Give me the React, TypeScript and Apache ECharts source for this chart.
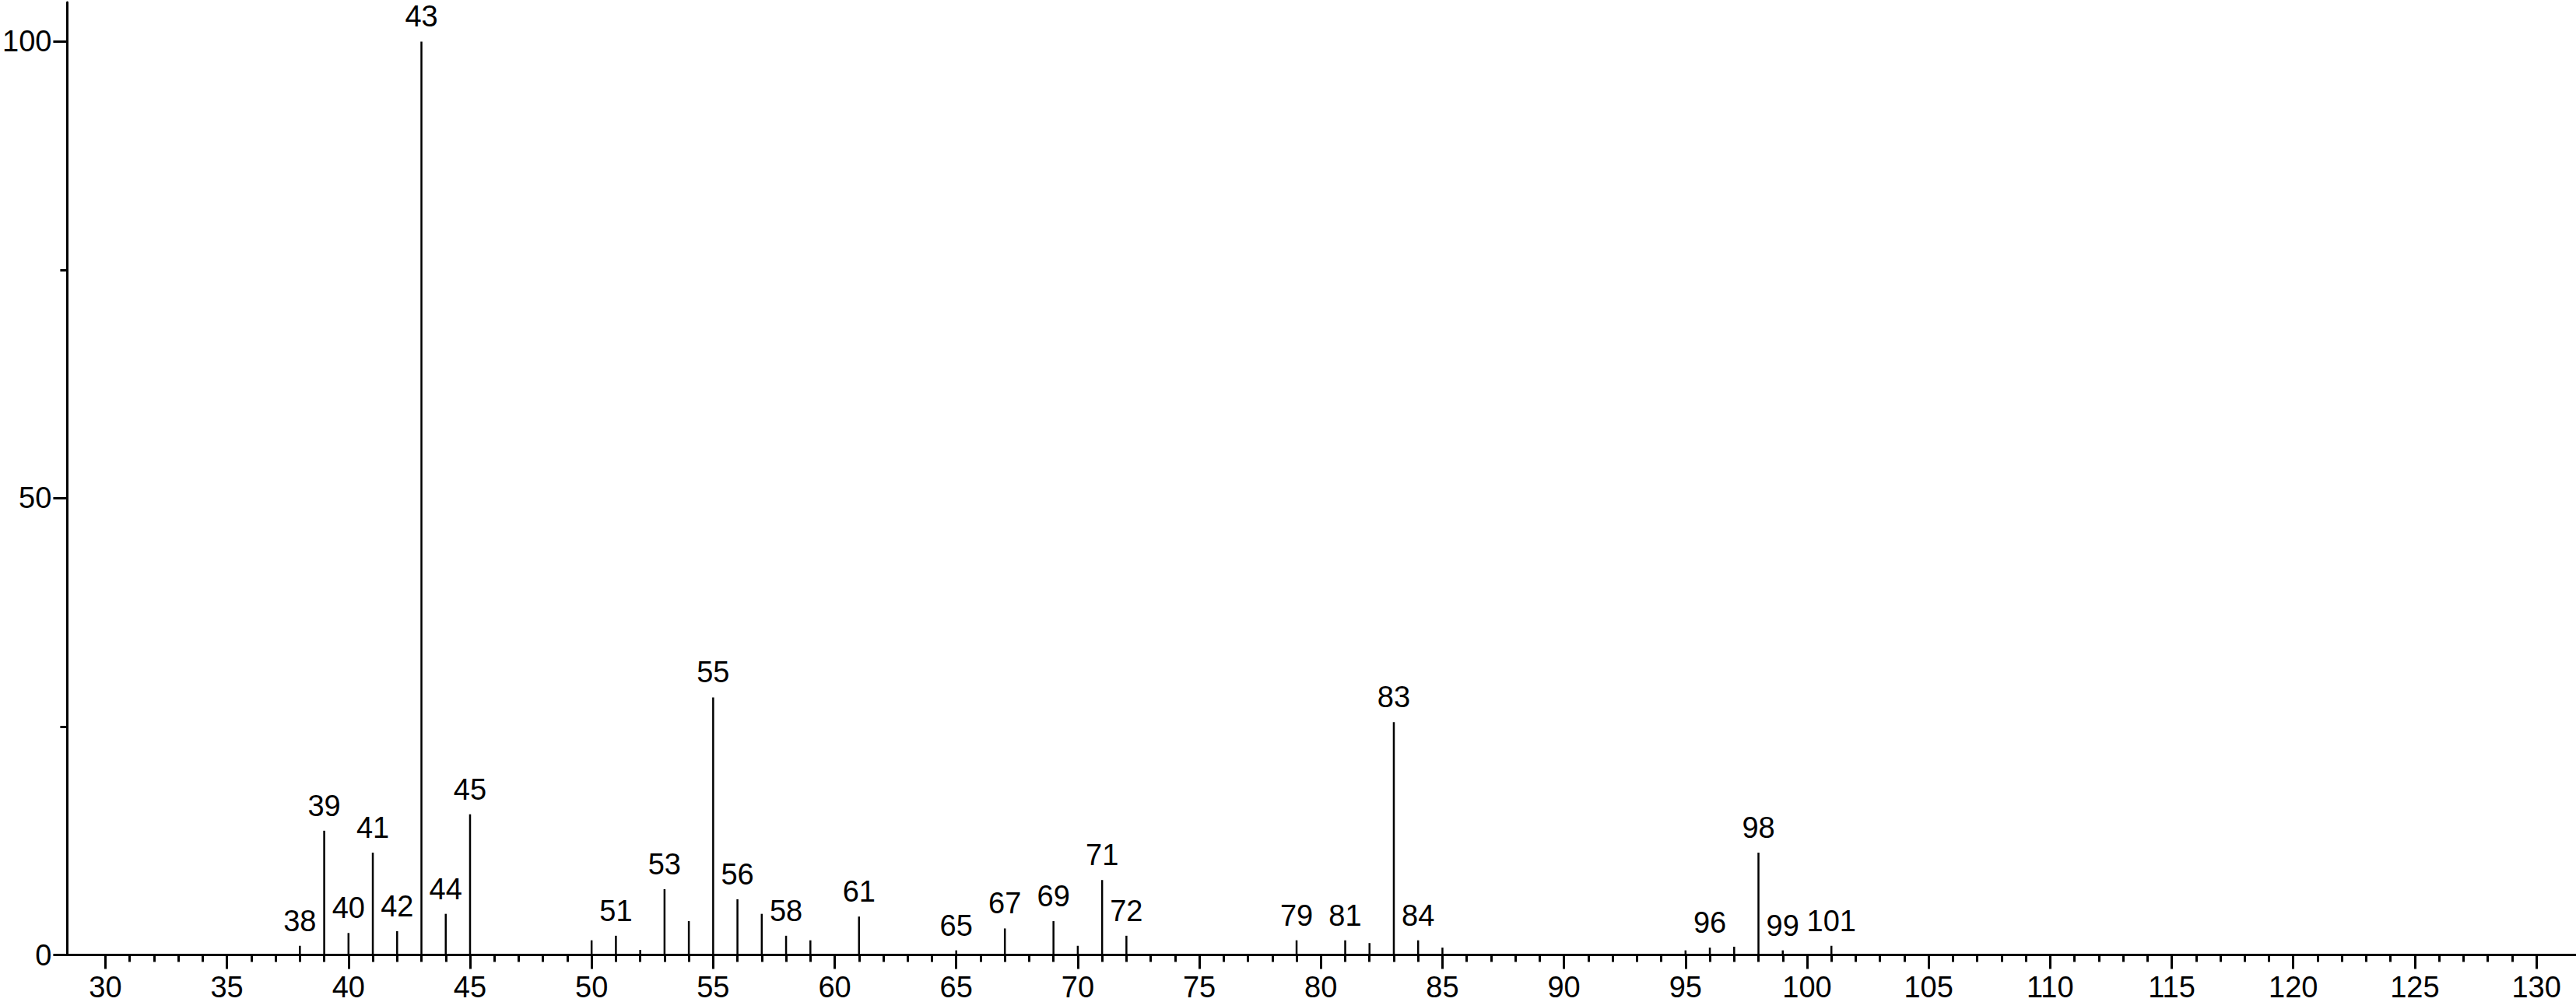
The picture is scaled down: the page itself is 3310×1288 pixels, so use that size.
import React, { useEffect, useRef } from "react";
import * as echarts from "echarts";

const masses = [38, 39, 40, 41, 42, 43, 44, 45, 50, 51, 52, 53, 54, 55, 56, 57, 58, 59, 61, 65, 67, 69, 70, 71, 72, 79, 81, 82, 83, 84, 85, 95, 96, 97, 98, 99, 101];
const intensities = [1.0, 13.6, 2.4, 11.2, 2.6, 100, 4.5, 15.4, 1.6, 2.1, 0.55, 7.2, 3.7, 28.2, 6.1, 4.5, 2.1, 1.6, 4.2, 0.5, 2.9, 3.7, 1.0, 8.2, 2.1, 1.6, 1.6, 1.3, 25.5, 1.6, 0.8, 0.5, 0.8, 0.9, 11.2, 0.5, 1.0];
const labeledMasses = [38, 39, 40, 41, 42, 43, 44, 45, 51, 53, 55, 56, 58, 61, 65, 67, 69, 71, 72, 79, 81, 83, 84, 96, 98, 99, 101];
const xMajorTicks = [30, 35, 40, 45, 50, 55, 60, 65, 70, 75, 80, 85, 90, 95, 100, 105, 110, 115, 120, 125, 130];
const xMinorTicks: number[] = [];
for (let v = 30; v <= 130; v++) xMinorTicks.push(v);
const yMajorTicks = [0, 50, 100];
const yMinorTicks = [25, 75];

const FONT = "Liberation Sans";

export default function App() {
  const ref = useRef<HTMLDivElement>(null);
  useEffect(() => {
    if (!ref.current) return;
    const chart = echarts.init(ref.current, null, { renderer: "svg" });
    const xMin = 28.43;
    const xMax = 131.63;
    const yMax = 104.3;
    const data = masses.map((m, i) => ({
      value: [m, intensities[i]],
      name: String(m),
      label: { show: labeledMasses.includes(m) },
    }));
    chart.setOption({
      animation: false,
      backgroundColor: "#ffffff",
      grid: { left: 84, right: 0, top: 3, bottom: 60.5, containLabel: false },
      xAxis: [
        {
          type: "value",
          min: xMin,
          max: xMax,
          position: "bottom",
          axisLine: { show: true, lineStyle: { color: "#000", width: 3 } },
          axisTick: { show: true, customValues: xMajorTicks, length: 18, lineStyle: { color: "#000", width: 3 } },
          axisLabel: { show: true, customValues: xMajorTicks, margin: 24, lineHeight: 34, color: "#000", fontSize: 38, fontFamily: FONT },
          splitLine: { show: false },
        },
        {
          type: "value",
          min: xMin,
          max: xMax,
          position: "bottom",
          axisLine: { show: false },
          axisTick: { show: true, customValues: xMinorTicks, length: 9, lineStyle: { color: "#000", width: 3 } },
          axisLabel: { show: false },
          splitLine: { show: false },
        },
      ],
      yAxis: [
        {
          type: "value",
          min: 0,
          max: yMax,
          position: "left",
          axisLine: { show: true, lineStyle: { color: "#000", width: 3 } },
          axisTick: { show: true, customValues: yMajorTicks, length: 18, lineStyle: { color: "#000", width: 3 } },
          axisLabel: { show: true, customValues: yMajorTicks, margin: 20, color: "#000", fontSize: 38, fontFamily: FONT },
          splitLine: { show: false },
        },
        {
          type: "value",
          min: 0,
          max: yMax,
          position: "left",
          axisLine: { show: false },
          axisTick: { show: true, customValues: yMinorTicks, length: 9, lineStyle: { color: "#000", width: 3 } },
          axisLabel: { show: false },
          splitLine: { show: false },
        },
      ],
      series: [
        {
          type: "bar",
          xAxisIndex: 0,
          yAxisIndex: 0,
          barWidth: 2.5,
          itemStyle: { color: "#000" },
          label: {
            show: true,
            position: "top",
            distance: 13,
            color: "#000",
            fontSize: 38,
            fontFamily: FONT,
            formatter: (p: any) => p.name,
          },
          data,
        },
      ],
    });
    return () => chart.dispose();
  }, []);
  return <div ref={ref} style={{ position: "absolute", left: 0, top: 0, width: 3310, height: 1288 }} />;
}
